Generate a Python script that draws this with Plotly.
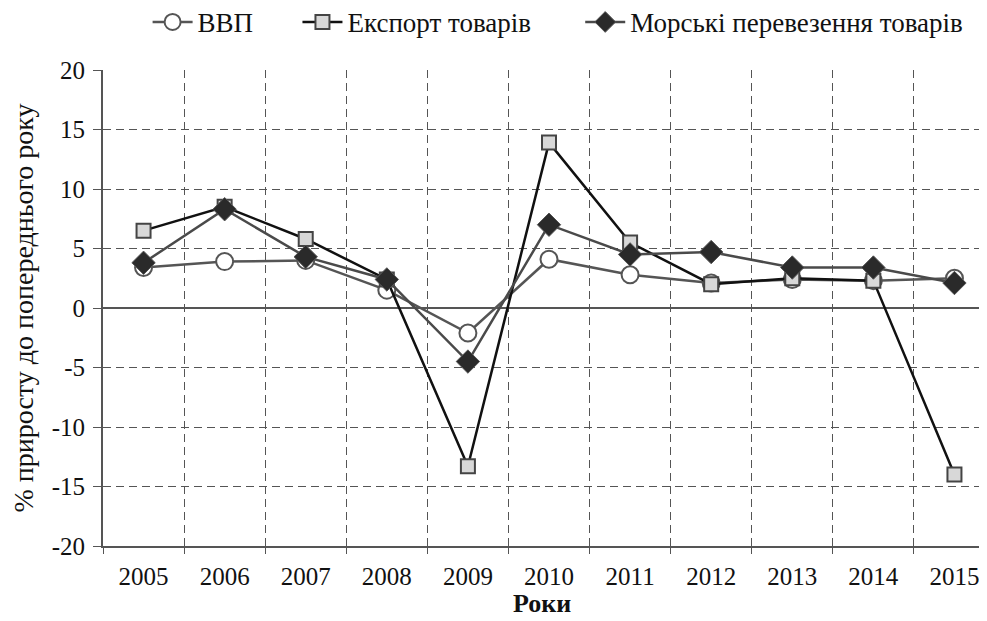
import plotly.graph_objects as go

years = ["2005", "2006", "2007", "2008", "2009", "2010", "2011", "2012", "2013", "2014", "2015"]
gdp = [3.4, 3.9, 4.0, 1.5, -2.1, 4.1, 2.8, 2.1, 2.4, 2.3, 2.5]
export = [6.5, 8.5, 5.8, 2.4, -13.3, 13.9, 5.5, 2.0, 2.5, 2.3, -14.0]
sea = [3.8, 8.3, 4.3, 2.4, -4.5, 7.0, 4.5, 4.7, 3.4, 3.4, 2.1]
y_ticks = [-20, -15, -10, -5, 0, 5, 10, 15, 20]
y_ticktext = ["-20", "-15", "-10", "-5", "0", "5", "10", "15", "20"]

FONT = "Liberation Serif"

fig = go.Figure()
fig.add_trace(go.Scatter(
    x=years, y=gdp, name="ВВП", mode="lines+markers", legend="legend",
    line=dict(color="#555555", width=2.5),
    marker=dict(symbol="circle", size=17, color="white", line=dict(color="#555555", width=2)),
))
fig.add_trace(go.Scatter(
    x=years, y=export, name="Експорт товарів", mode="lines+markers", legend="legend2",
    line=dict(color="#111111", width=2.5),
    marker=dict(symbol="square", size=14, color="#d8d8d8", line=dict(color="#444444", width=2)),
))
fig.add_trace(go.Scatter(
    x=years, y=sea, name="Морські перевезення товарів", mode="lines+markers", legend="legend3",
    line=dict(color="#4a4a4a", width=2.5),
    marker=dict(symbol="diamond", size=18, color="#2a2a2a", line=dict(color="#555555", width=1)),
))

legend_common = dict(orientation="h", xanchor="left", y=1.10, yanchor="middle",
                     font=dict(family=FONT, size=27), itemwidth=40,
                     bgcolor="rgba(0,0,0,0)")

fig.update_layout(
    width=987, height=621,
    margin=dict(l=95, r=0, t=62, b=83, autoexpand=False),
    plot_bgcolor="white", paper_bgcolor="white",
    font=dict(family=FONT, size=26, color="#111111"),
    showlegend=True,
    legend=dict(x=0.05, **legend_common),
    legend2=dict(x=0.218, **legend_common),
    legend3=dict(x=0.535, **legend_common),
    annotations=[dict(text="<b>Роки</b>", x=0.492, y=-0.121, xref="paper", yref="paper",
                      xanchor="center", yanchor="middle", showarrow=False,
                      font=dict(family=FONT, size=26, color="#111111"))],
)
fig.update_xaxes(
    type="category", range=[-0.5, 10.5], tickson="boundaries", automargin=False,
    showgrid=True, gridcolor="#555555", griddash="8px,5px", gridwidth=1.3,
    showline=True, linecolor="#555555", linewidth=2,
    ticks="outside", ticklen=6, tickcolor="#555555",
    tickfont=dict(family=FONT, size=25), ticklabelstandoff=7,
)
fig.update_yaxes(
    range=[-20, 20], tickvals=y_ticks, ticktext=y_ticktext, automargin=False,
    showgrid=True, gridcolor="#555555", griddash="8px,5px", gridwidth=1.3,
    zeroline=True, zerolinecolor="#555555", zerolinewidth=2,
    showline=True, linecolor="#555555", linewidth=2,
    ticks="outside", ticklen=8, tickcolor="#555555",
    tickfont=dict(family=FONT, size=25), ticklabelstandoff=3,
    title=dict(text="% приросту до попереднього року", font=dict(family=FONT, size=28), standoff=19),
)
fig.write_html("out.html")
